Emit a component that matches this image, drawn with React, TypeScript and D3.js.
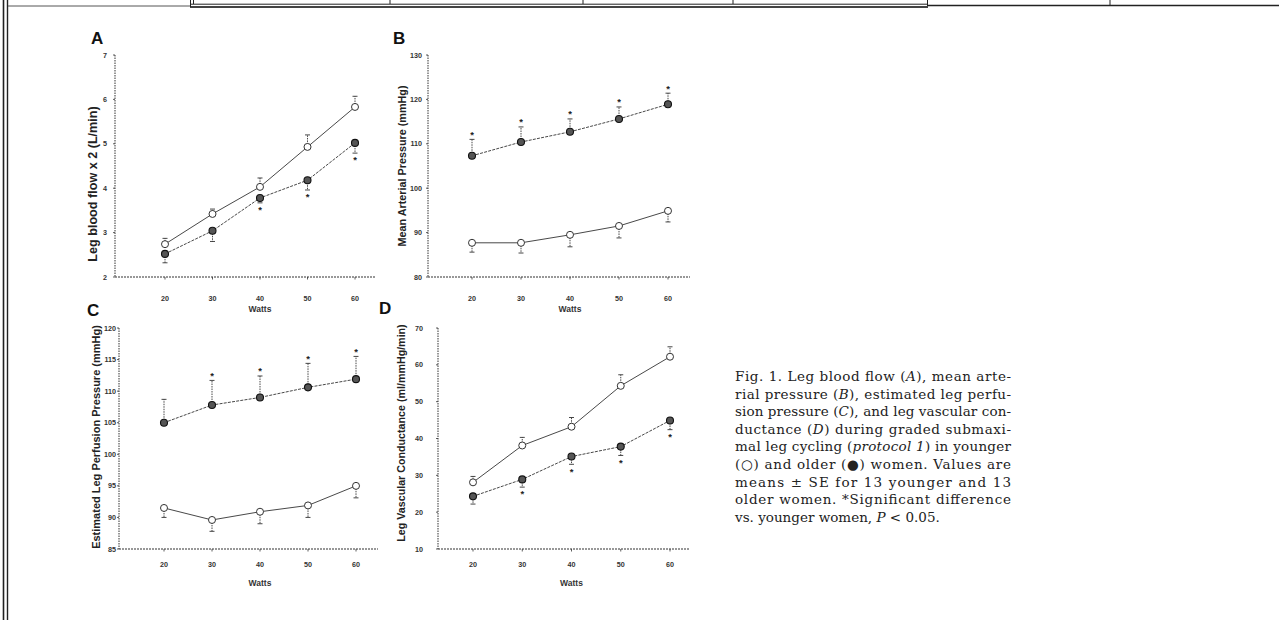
import React from 'react';
import * as d3 from 'd3';

// ---- data ----
const watts = [20, 30, 40, 50, 60];

// A: leg blood flow x 2 (L/min)
const flowYounger = [2.74, 3.42, 4.03, 4.93, 5.83];
const flowYoungerSE = [0.13, 0.11, 0.2, 0.27, 0.24];
const flowOlder = [2.52, 3.04, 3.78, 4.18, 5.02];
const flowOlderSE = [0.2, 0.24, 0.11, 0.22, 0.23];
const flowStars = [false, false, true, true, true];
const flowTicks = [2, 3, 4, 5, 6, 7];

// B: mean arterial pressure (mmHg)
const mapYounger = [87.7, 87.7, 89.5, 91.5, 94.9];
const mapYoungerSE = [2.1, 2.3, 2.7, 2.7, 2.5];
const mapOlder = [107.3, 110.4, 112.7, 115.6, 118.9];
const mapOlderSE = [3.7, 3.4, 2.9, 2.7, 2.5];
const mapStars = [true, true, true, true, true];
const mapTicks = [80, 90, 100, 110, 120, 130];

// C: estimated leg perfusion pressure (mmHg)
const perfYounger = [91.5, 89.6, 90.9, 91.9, 95.0];
const perfYoungerSE = [1.5, 1.8, 1.9, 1.9, 1.9];
const perfOlder = [105.0, 107.8, 109.0, 110.6, 111.9];
const perfOlderSE = [3.7, 3.9, 3.4, 3.8, 3.6];
const perfStars = [false, true, true, true, true];
const perfTicks = [85, 90, 95, 100, 105, 110, 115, 120];

// D: leg vascular conductance (ml/mmHg/min)
const condYounger = [28.1, 38.1, 43.2, 54.3, 62.2];
const condYoungerSE = [1.6, 2.2, 2.5, 3.0, 2.7];
const condOlder = [24.3, 28.9, 35.1, 37.8, 44.9];
const condOlderSE = [2.1, 2.1, 2.1, 2.4, 2.5];
const condStars = [false, true, true, true, true];
const condTicks = [10, 20, 30, 40, 50, 60, 70];

const captionLines: { t: string; i?: boolean }[][] = [
  [{ t: 'Fig. 1. Leg blood flow (' }, { t: 'A', i: true }, { t: '), mean arte-' }],
  [{ t: 'rial pressure (' }, { t: 'B', i: true }, { t: '), estimated leg perfu-' }],
  [{ t: 'sion pressure (' }, { t: 'C', i: true }, { t: '), and leg vascular con-' }],
  [{ t: 'ductance (' }, { t: 'D', i: true }, { t: ') during graded submaxi-' }],
  [{ t: 'mal leg cycling (' }, { t: 'protocol 1', i: true }, { t: ') in younger' }],
  [{ t: '(\u25CB) and older (\u25CF) women. Values are' }],
  [{ t: 'means \u00B1 SE for 13 younger and 13' }],
  [{ t: 'older women. *Significant difference' }],
  [{ t: 'vs. younger women, ' }, { t: 'P', i: true }, { t: ' < 0.05.' }],
];

type Panel = {
  letter: string;
  letterX: number;
  letterY: number;
  axisX: number;
  x20: number;
  x60: number;
  xEnd: number;
  yTop: number;
  yBot: number;
  ticks: number[];
  title: string;
  titleX: number;
  titleY: number;
  titleSize: number;
  younger: number[];
  youngerSE: number[];
  older: number[];
  olderSE: number[];
  stars: boolean[];
  olderUp: boolean;
  labelGap: number;
  tickDy: number;
  wattsDy: number;
};

const panels: Panel[] = [
  {
    letter: 'A', letterX: 91, letterY: 44, axisX: 115, x20: 165, x60: 355, xEnd: 376,
    yTop: 55, yBot: 277, ticks: flowTicks, title: 'Leg blood flow x 2 (L/min)',
    titleX: 93, titleY: 184, titleSize: 12.6, younger: flowYounger, youngerSE: flowYoungerSE,
    older: flowOlder, olderSE: flowOlderSE, stars: flowStars, olderUp: false,
    labelGap: 8, tickDy: 21, wattsDy: 32,
  },
  {
    letter: 'B', letterX: 393, letterY: 44, axisX: 428, x20: 472, x60: 668, xEnd: 690,
    yTop: 55, yBot: 277, ticks: mapTicks, title: 'Mean Arterial Pressure (mmHg)',
    titleX: 402, titleY: 166, titleSize: 10.8, younger: mapYounger, youngerSE: mapYoungerSE,
    older: mapOlder, olderSE: mapOlderSE, stars: mapStars, olderUp: true,
    labelGap: 6, tickDy: 21, wattsDy: 32,
  },
  {
    letter: 'C', letterX: 87, letterY: 316, axisX: 119, x20: 164, x60: 356, xEnd: 378,
    yTop: 328, yBot: 549, ticks: perfTicks, title: 'Estimated Leg Perfusion Pressure (mmHg)',
    titleX: 96, titleY: 437, titleSize: 11, younger: perfYounger, youngerSE: perfYoungerSE,
    older: perfOlder, olderSE: perfOlderSE, stars: perfStars, olderUp: true,
    labelGap: 3, tickDy: 15, wattsDy: 34,
  },
  {
    letter: 'D', letterX: 379, letterY: 314, axisX: 438, x20: 473, x60: 670, xEnd: 690,
    yTop: 328, yBot: 549, ticks: condTicks, title: 'Leg Vascular Conductance (ml/mmHg/min)',
    titleX: 401, titleY: 433, titleSize: 10.7, younger: condYounger, youngerSE: condYoungerSE,
    older: condOlder, olderSE: condOlderSE, stars: condStars, olderUp: false,
    labelGap: 15, tickDy: 15, wattsDy: 34,
  },
];

const ink = '#222';
const sans = '"Liberation Sans", Arial, sans-serif';

function ChartPanel({ p }: { p: Panel }) {
  const x = d3.scaleLinear().domain([20, 60]).range([p.x20, p.x60]);
  const y = d3
    .scaleLinear()
    .domain([p.ticks[0], p.ticks[p.ticks.length - 1]])
    .range([p.yBot, p.yTop]);
  const line = d3
    .line<number>()
    .x((_, i) => x(watts[i]))
    .y((d) => y(d));

  const bars = (vals: number[], se: number[], up: boolean) =>
    vals.map((v, i) => {
      const end = up ? v + se[i] : v - se[i];
      const cx = x(watts[i]);
      return (
        <g key={i}>
          <line x1={cx} x2={cx} y1={y(v)} y2={y(end)} stroke="#333" strokeWidth={0.9} strokeDasharray="1.5,1" />
          <line x1={cx - 2.5} x2={cx + 2.5} y1={y(end)} y2={y(end)} stroke="#333" strokeWidth={0.9} />
        </g>
      );
    });

  return (
    <g>
      <text x={p.letterX} y={p.letterY} fontFamily={sans} fontWeight="bold" fontSize={17} fill="#111">
        {p.letter}
      </text>
      {/* axes */}
      <line x1={p.axisX} x2={p.axisX} y1={p.yTop} y2={p.yBot} stroke="#333" strokeWidth={1} strokeDasharray="1.5,1" />
      <line x1={p.axisX} x2={p.xEnd} y1={p.yBot} y2={p.yBot} stroke="#333" strokeWidth={1.1} strokeDasharray="2,1" />
      {p.ticks.map((t) => (
        <g key={t}>
          <line x1={p.axisX - 2} x2={p.axisX} y1={y(t)} y2={y(t)} stroke="#333" strokeWidth={0.8} />
          <text
            x={p.axisX - p.labelGap}
            y={y(t)}
            dy="0.35em"
            textAnchor="end"
            fontFamily={sans}
            fontWeight="bold"
            fontSize={7.2}
            fill="#333"
          >
            {t}
          </text>
        </g>
      ))}
      {watts.map((w) => (
        <g key={w}>
          <line x1={x(w)} x2={x(w)} y1={p.yBot} y2={p.yBot + 2.5} stroke="#333" strokeWidth={0.8} />
          <text x={x(w)} y={p.yBot + p.tickDy} dy="0.35em" textAnchor="middle" fontFamily={sans} fontWeight="bold" fontSize={7.2} fill="#333">
            {w}
          </text>
        </g>
      ))}
      <text x={x(40)} y={p.yBot + p.wattsDy} dy="0.35em" textAnchor="middle" fontFamily={sans} fontWeight="bold" fontSize={8.5} fill="#333">
        Watts
      </text>
      <text
        transform={`translate(${p.titleX},${p.titleY}) rotate(-90)`}
        dy="0.35em"
        textAnchor="middle"
        fontFamily={sans}
        fontWeight="bold"
        fontSize={p.titleSize}
        fill={ink}
      >
        {p.title}
      </text>
      {/* error bars */}
      {bars(p.younger, p.youngerSE, !p.olderUp)}
      {bars(p.older, p.olderSE, p.olderUp)}
      {/* series lines */}
      <path d={line(p.younger) || ''} fill="none" stroke="#333" strokeWidth={0.9} />
      <path d={line(p.older) || ''} fill="none" stroke="#333" strokeWidth={0.9} strokeDasharray="3,1.2" />
      {/* stars */}
      {p.older.map((v, i) =>
        p.stars[i] ? (
          <text
            key={i}
            x={x(watts[i])}
            y={y(p.olderUp ? v + p.olderSE[i] : v - p.olderSE[i]) + (p.olderUp ? -5 : 7)}
            dy="0.35em"
            textAnchor="middle"
            fontFamily={sans}
            fontWeight="bold"
            fontSize={9.5}
            fill="#222"
          >
            *
          </text>
        ) : null
      )}
      {/* markers */}
      {p.younger.map((v, i) => (
        <circle key={'y' + i} cx={x(watts[i])} cy={y(v)} r={3.5} fill="#fff" stroke="#333" strokeWidth={1} />
      ))}
      {p.older.map((v, i) => (
        <circle key={'o' + i} cx={x(watts[i])} cy={y(v)} r={3.5} fill="#555" stroke="#111" strokeWidth={1.1} />
      ))}
    </g>
  );
}

function Frame() {
  const dividers = [390, 583, 733];
  return (
    <g stroke="#222" fill="none">
      <line x1={3.5} x2={3.5} y1={0} y2={620} strokeWidth={1.6} />
      <line x1={7.5} x2={7.5} y1={0} y2={620} strokeWidth={1.4} />
      <line x1={8} x2={190} y1={6} y2={6} strokeWidth={1} stroke="#555" />
      <line x1={190} x2={928} y1={4.2} y2={4.2} strokeWidth={1} />
      <line x1={190} x2={928} y1={7} y2={7} strokeWidth={1.8} stroke="#444" />
      <line x1={190.5} x2={190.5} y1={0} y2={7} strokeWidth={1} />
      <line x1={193.5} x2={193.5} y1={0} y2={4} strokeWidth={1} />
      {dividers.map((d) => (
        <line key={d} x1={d} x2={d} y1={0} y2={4} strokeWidth={1} />
      ))}
      <line x1={927.5} x2={927.5} y1={0} y2={6} strokeWidth={1} />
      <line x1={928} x2={1279} y1={5.5} y2={5.5} strokeWidth={1.5} />
      <line x1={1110} x2={1110} y1={0} y2={5} strokeWidth={1} />
    </g>
  );
}

export default function App() {
  const capX = 735;
  const capW = 276;
  const capTop = 381;
  const capStep = 17.6;
  return (
    <svg
      width={1279}
      height={620}
      viewBox="0 0 1279 620"
      style={{ position: 'absolute', left: 0, top: 0, background: '#fff' }}
    >
      <rect width={1279} height={620} fill="#fff" />
      <Frame />
      {panels.map((p) => (
        <ChartPanel key={p.letter} p={p} />
      ))}
      {captionLines.map((ln, i) => (
        <text
          key={i}
          x={capX}
          y={capTop + i * capStep}
          fontFamily='"DejaVu Serif", "Liberation Serif", serif'
          fontSize={13.5}
          fill="#222"
          textLength={i < captionLines.length - 1 ? capW : undefined}
          lengthAdjust="spacing"
        >
          {ln.map((s, j) => (
            <tspan key={j} fontStyle={s.i ? 'italic' : 'normal'}>
              {s.t}
            </tspan>
          ))}
        </text>
      ))}
    </svg>
  );
}
